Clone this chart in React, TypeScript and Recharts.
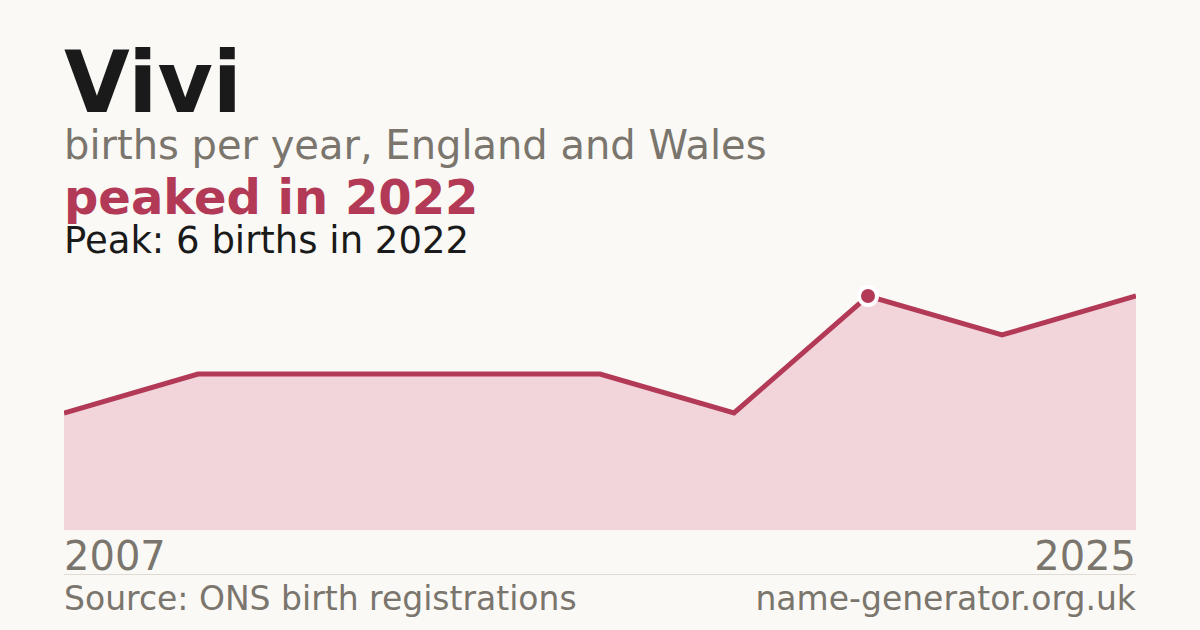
import React from 'react';
import { AreaChart, Area, XAxis, YAxis, ReferenceDot } from 'recharts';

const years = [2007, 2009, 2012, 2014, 2016, 2019, 2022, 2023, 2025];
const births = [3, 4, 4, 4, 4, 3, 6, 5, 6];
const edgeTicks = [2007, 2025];
const peakYear = 2022;
const peakValue = 6;

const data = years.map((y, i) => ({ year: y, births: births[i] }));

const crimson = '#b33a57';
const grey = '#7a756d';
const ink = '#1a1a1a';
const font = '"DejaVu Sans", sans-serif';

const EdgeTick = (props: any) => {
    const { x, y, payload, index } = props;
    const first = index === 0;
    return (
        <text x={x} y={y + 40} textAnchor={first ? 'start' : 'end'} fill={grey} fontSize={40} fontFamily={font}>
            {payload.value}
        </text>
    );
};

const txt = (top: number, size: number, color: string, bold = false): React.CSSProperties => ({
    position: 'absolute', left: 64, top, fontSize: size, lineHeight: 1, color,
    fontWeight: bold ? 700 : 400, whiteSpace: 'nowrap', fontFamily: font,
});

const App: React.FC = () => {
    return (
        <div style={{ position: 'absolute', left: 0, top: 0, width: 1200, height: 630, background: '#faf9f5', overflow: 'hidden', fontFamily: font }}>
            <div style={txt(40.1, 85, ink, true)}>Vivi</div>
            <div style={txt(125.2, 40, grey)}>births per year, England and Wales</div>
            <div style={txt(173.4, 48, crimson, true)}>peaked in 2022</div>
            <div style={txt(221.7, 37, ink)}>Peak: 6 births in 2022</div>

            <div style={{ position: 'absolute', left: 64, top: 276 }}>
                <AreaChart width={1072} height={314} data={data} margin={{ top: 20, right: 0, bottom: 0, left: 0 }}>
                    <XAxis dataKey="year" type="category" ticks={edgeTicks} interval={0} axisLine={false} tickLine={false}
                        tickSize={0} tickMargin={0} height={60} tick={<EdgeTick />} padding={{ left: 0, right: 0 }} />
                    <YAxis hide domain={[0, 6]} />
                    <Area type="linear" dataKey="births" stroke={crimson} strokeWidth={5} fill="#f2d5db" fillOpacity={1}
                        dot={false} activeDot={false} isAnimationActive={false} />
                    <ReferenceDot x={peakYear} y={peakValue} r={9} fill={crimson} stroke="#ffffff" strokeWidth={4} />
                </AreaChart>
            </div>

            <div style={{ position: 'absolute', left: 64, top: 574, width: 1072, height: 1, background: '#dedbd4' }} />
            <div style={txt(582.1, 33, grey)}>Source: ONS birth registrations</div>
            <div style={{ ...txt(582.1, 33, grey), left: 'auto', right: 64 }}>name-generator.org.uk</div>
        </div>
    );
};

export default App;
